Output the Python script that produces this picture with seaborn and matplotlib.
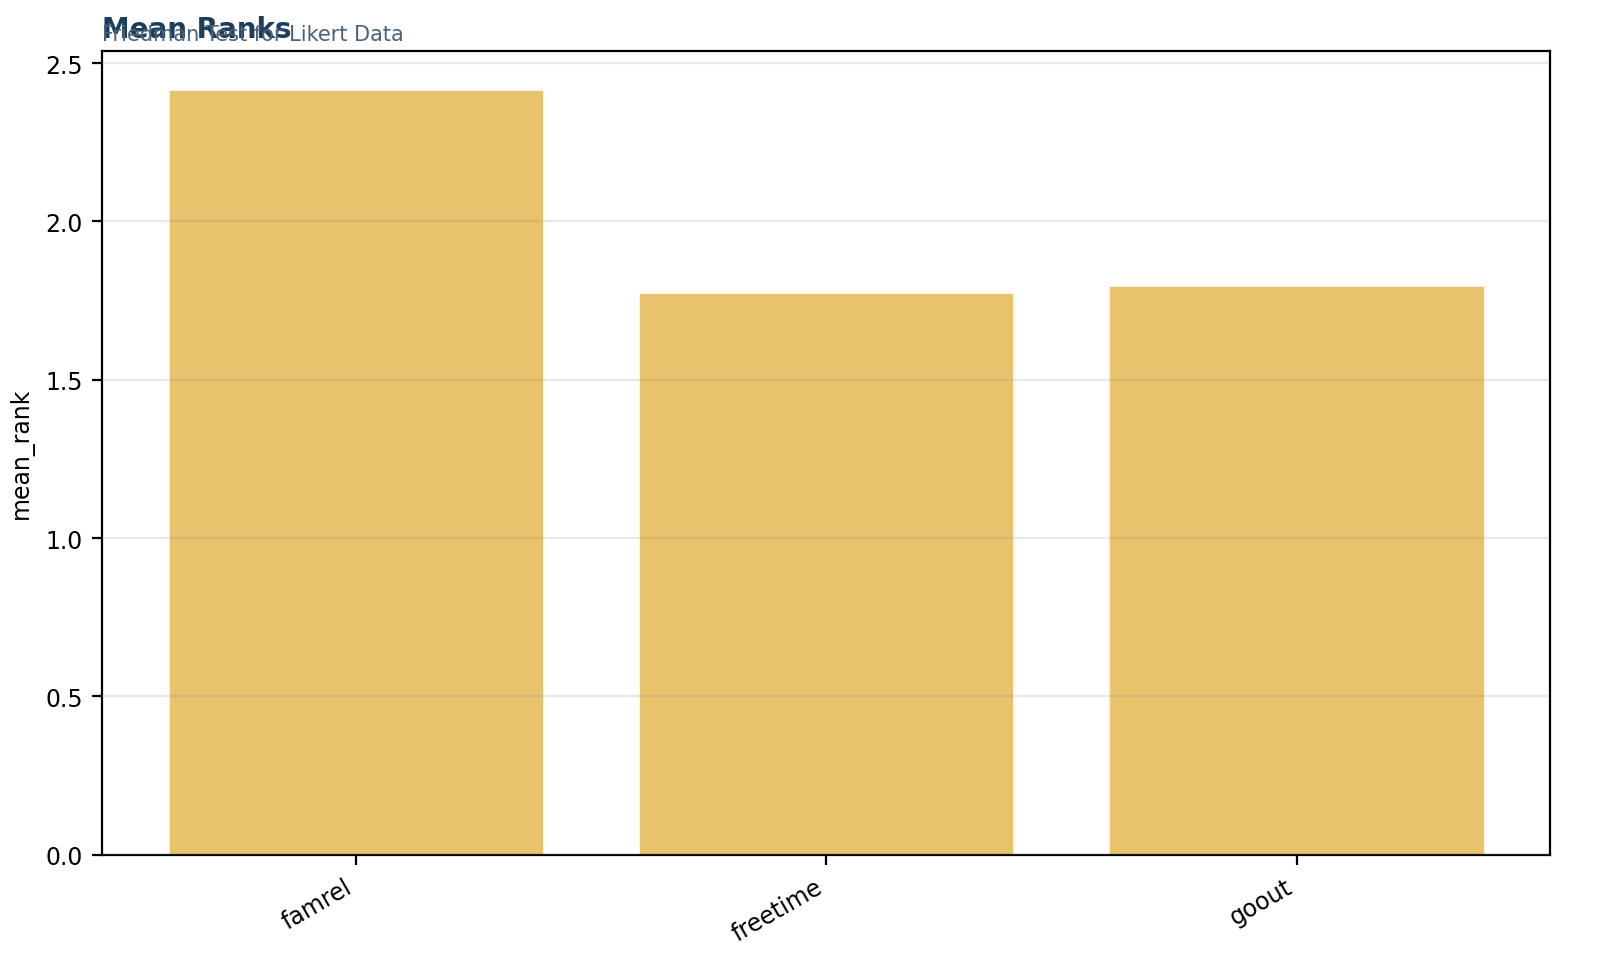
import matplotlib
matplotlib.use("Agg")
import matplotlib.pyplot as plt
import seaborn as sns
import pandas as pd

categories = ["famrel", "freetime", "goout"]
mean_rank = [2.418, 1.777, 1.798]

df = pd.DataFrame({"variable": categories, "mean_rank": mean_rank})

sns.set_style("white")
plt.rcParams['font.family'] = ['DejaVu Sans']

fig = plt.figure(figsize=(8, 4.89), dpi=200)
ax = fig.add_axes([0.064, 0.125, 0.905, 0.822])

sns.barplot(data=df, x="variable", y="mean_rank", color="#E6BE5E", alpha=0.92,
            width=0.8, saturation=1, ax=ax, zorder=1)
ax.set_xlim(-0.54, 2.54)
ax.set_ylim(0, max(mean_rank) * 1.05)
ax.yaxis.grid(True, color="#888888", alpha=0.18, linewidth=0.8, zorder=2)
ax.set_axisbelow(False)
for s in ax.spines.values():
    s.set_visible(True)
    s.set_color("black")
    s.set_linewidth(0.8)
ax.tick_params(axis="both", which="both", direction="out", length=3.5, width=0.8,
               labelsize=8.5, bottom=True, left=True, color="black", labelcolor="black")
ax.set_xlabel("")
ax.set_ylabel("mean_rank", fontsize=8.5, color="black")
plt.setp(ax.get_xticklabels(), rotation=30, ha="right", rotation_mode="default")

fig.text(0.064, 0.961, "Mean Ranks", fontsize=10, fontweight="bold", color="#1D3D5C",
         ha="left", va="baseline")
fig.text(0.064, 0.958, "Friedman Test for Likert Data", fontsize=7.5, color="#4A6178",
         ha="left", va="baseline")

fig.savefig("out.png", dpi=200)
